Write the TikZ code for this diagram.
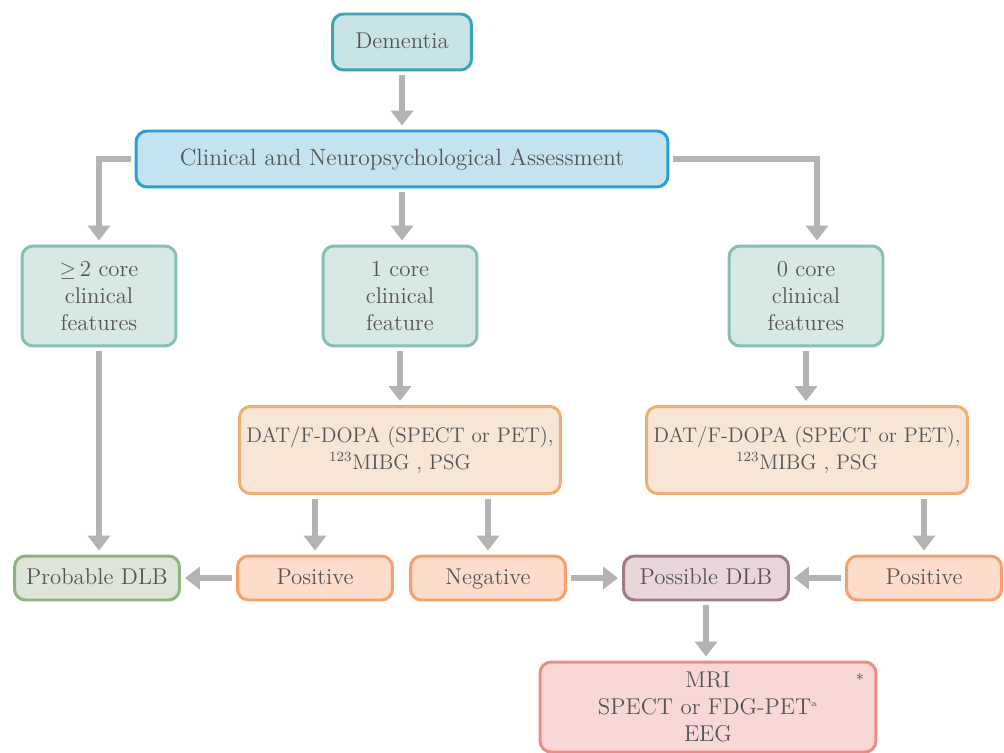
\documentclass[tikz,border=0pt]{standalone}
\usepackage{amssymb}
\usetikzlibrary{arrows.meta}
\definecolor{txtgray}{HTML}{555555}
\definecolor{arrowgray}{HTML}{B3B3B3}
\definecolor{demfill}{HTML}{C8E4E6}
\definecolor{demline}{HTML}{3AA5B5}
\definecolor{assfill}{HTML}{C4E3F0}
\definecolor{assline}{HTML}{2B9FD3}
\definecolor{corefill}{HTML}{D8E8E4}
\definecolor{coreline}{HTML}{86C0B4}
\definecolor{testfill}{HTML}{F7E6D6}
\definecolor{testline}{HTML}{EEB070}
\definecolor{resfill}{HTML}{FDDCCB}
\definecolor{resline}{HTML}{F7A06A}
\definecolor{probfill}{HTML}{DEE5D8}
\definecolor{probline}{HTML}{8FB27E}
\definecolor{possfill}{HTML}{E8D6DA}
\definecolor{possline}{HTML}{A27A84}
\definecolor{imgfill}{HTML}{F8D8D6}
\definecolor{imgline}{HTML}{EC8C86}
\tikzset{
  box/.style={rounded corners=0.22cm, line width=1.7pt, text=txtgray, align=center,
    font=\fontsize{13}{15.5}\selectfont, inner sep=2pt},
  oneline/.style={text height=1.8ex, text depth=0.2ex},
  dembox/.style={box, oneline, fill=demfill, draw=demline, minimum width=2.78cm, minimum height=1.12cm},
  assbox/.style={box, oneline, fill=assfill, draw=assline, minimum width=10.64cm, minimum height=1.12cm,
    font=\fontsize{13.4}{15.5}\selectfont},
  corebox/.style={box, fill=corefill, draw=coreline, minimum width=3.08cm, minimum height=2cm},
  testbox/.style={box, fill=testfill, draw=testline, minimum width=6.42cm, minimum height=1.74cm,
    font=\fontsize{12}{15.5}\selectfont},
  resbox/.style={box, oneline, fill=resfill, draw=resline, minimum width=3.1cm, minimum height=0.88cm},
  probbox/.style={box, oneline, fill=probfill, draw=probline, minimum width=3.3cm, minimum height=0.88cm},
  possbox/.style={box, oneline, fill=possfill, draw=possline, minimum width=3.3cm, minimum height=0.88cm},
  imgbox/.style={box, fill=imgfill, draw=imgline, minimum width=6.72cm, minimum height=1.8cm},
  flow/.style={draw=arrowgray, line width=3.4pt, shorten >=0.08cm, shorten <=0.08cm,
    -{Triangle[width=0.44cm,length=0.3cm]}},
}
\begin{document}
\begin{tikzpicture}[x=0.02cm, y=-0.02cm]
    \useasboundingbox (0,0) rectangle (1004,753);
    % top
    \node[dembox] (dem) at (402,42) {Dementia};
    \node[assbox] (assess) at (402,159) {Clinical and Neuropsychological Assessment};
    % core features
    \node[corebox] (core2) at (99,296) {$\geq$\,2 core\\clinical\\features};
    \node[corebox] (core1) at (400,296) {1 core\\clinical\\feature};
    \node[corebox] (core0) at (806,296) {0 core\\clinical\\features};
    % tests
    \node[testbox] (datl) at (400,450) {DAT/F-DOPA (SPECT or PET),\\\textsuperscript{123}MIBG , PSG};
    \node[testbox] (datr) at (807,450) {DAT/F-DOPA (SPECT or PET),\\\textsuperscript{123}MIBG , PSG};
    % results
    \node[probbox] (prob) at (97,578) {Probable DLB};
    \node[resbox] (posl) at (315,578) {Positive};
    \node[resbox] (neg) at (488,578) {Negative};
    \node[possbox] (poss) at (706,578) {Possible DLB};
    \node[resbox] (posr) at (924,578) {Positive};
    \node[imgbox] (img) at (708,707) {MRI\\SPECT or FDG-PET\textsuperscript{\tiny a}\\EEG};
    \node[text=txtgray, font=\small, inner sep=0pt] (star) at (860,680) {*};
    % arrows
    \draw[flow] (dem) -- (assess);
    \draw[flow] (assess) -- (assess |- core1.north);
    \draw[flow] (assess.west) -| (core2.north);
    \draw[flow] (assess.east) -| ([xshift=0.22cm]core0.north);
    \draw[flow] (core2.south) -- (core2.south |- prob.north);
    \draw[flow] (core1) -- (datl);
    \draw[flow] (core0) -- (core0 |- datr.north);
    \draw[flow] (datl.south -| posl) -- (posl.north);
    \draw[flow] (datl.south -| neg) -- (neg.north);
    \draw[flow] (datr.south -| posr) -- (posr.north);
    \draw[flow] (posl) -- (prob);
    \draw[flow] (neg) -- (poss);
    \draw[flow] (posr) -- (poss);
    \draw[flow] (poss) -- (poss |- img.north);
\end{tikzpicture}
\end{document}
